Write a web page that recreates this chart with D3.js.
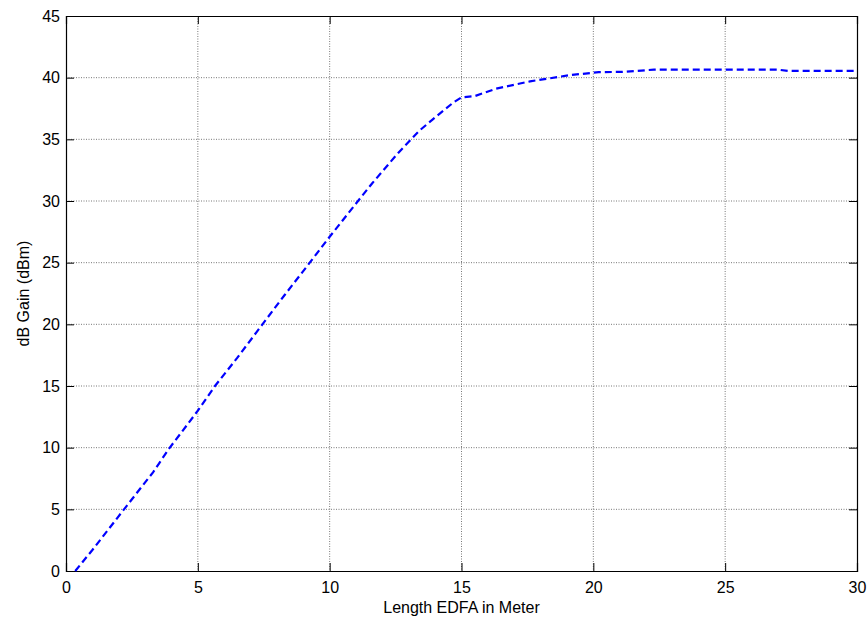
<!DOCTYPE html>
<html>
<head>
<meta charset="utf-8">
<script src="https://cdn.jsdelivr.net/npm/d3@7"></script>
<style>
  body {margin: 0; background: #fff;}
  .plot text {font-family: "Liberation Sans", Arial, sans-serif; font-size: 16px; fill: #000;}
</style>
</head>
<body>
<div id="chart"></div>
<script>
//-- Data
var length_m = [0.35, 1, 2.2, 3.3, 3.9, 4.4, 5, 5.65, 6.5, 7.45, 8.3, 9.1, 10, 11, 11.6, 12.2, 12.6, 13, 13.4, 13.9, 14.3, 14.7, 15, 15.5, 16.3, 17.6, 19.1, 20.2, 21.1, 22.3, 27, 27.4, 30];
var gain_db  = [0, 1.7, 5, 8, 9.9, 11.3, 13, 15, 17.3, 20, 22.4, 24.6, 27.1, 29.8, 31.4, 32.9, 33.9, 34.8, 35.7, 36.6, 37.3, 38.0, 38.4, 38.5, 39.1, 39.7, 40.2, 40.45, 40.47, 40.65, 40.65, 40.55, 40.55];
var xticks = [0, 5, 10, 15, 20, 25, 30];
var yticks = [0, 5, 10, 15, 20, 25, 30, 35, 40, 45];
var xlabel = "Length EDFA in Meter";
var ylabel = "dB Gain (dBm)";

var wrap = {id: "#chart"};

function GC_Make_Canvas(wrap) {
  var tot_width = 868;
  var tot_height = 621;
  var margin = {left: 66, right: 11, bottom: 50, top: 16};
  var width = tot_width - margin.left - margin.right;
  var height = tot_height - margin.top - margin.bottom;

  var svg = d3.select(wrap.id)
    .append("svg")
      .attr("class", "plot")
      .attr("width", tot_width)
      .attr("height", tot_height)
    .append("g")
      .attr("transform", "translate(" + margin.left + "," + margin.top + ")");

  wrap.margin = margin;
  wrap.width = width;
  wrap.height = height;
  wrap.svg = svg;
}

function GC_initialize(wrap) {
  var x = d3.scaleLinear().domain([0, 30]).range([0, wrap.width]);
  var y = d3.scaleLinear().domain([0, 45]).range([wrap.height, 0]);
  var tick_len = 8;

  //-- Grid
  wrap.svg.append("g")
    .selectAll("line")
    .data(xticks.slice(1, -1))
    .enter()
    .append("line")
      .attr("x1", function (d) {return x(d);})
      .attr("x2", function (d) {return x(d);})
      .attr("y1", 0)
      .attr("y2", wrap.height)
      .style("stroke", "#555")
      .style("stroke-width", 0.8)
      .style("stroke-dasharray", "1,1.5")

  wrap.svg.append("g")
    .selectAll("line")
    .data(yticks.slice(1, -1))
    .enter()
    .append("line")
      .attr("x1", 0)
      .attr("x2", wrap.width)
      .attr("y1", function (d) {return y(d);})
      .attr("y2", function (d) {return y(d);})
      .style("stroke", "#555")
      .style("stroke-width", 0.8)
      .style("stroke-dasharray", "1,1.5")

  //-- Axes (ticks inside, box on)
  var x_axis = d3.axisBottom(x).tickValues(xticks).tickSize(-tick_len).tickPadding(11);
  var x_axis_top = d3.axisTop(x).tickValues(xticks).tickSize(-tick_len).tickFormat("");
  var y_axis = d3.axisLeft(y).tickValues(yticks).tickSize(-tick_len).tickPadding(6);
  var y_axis_right = d3.axisRight(y).tickValues(yticks).tickSize(-tick_len).tickFormat("");

  wrap.svg.append("g")
    .attr("class", "xaxis")
    .attr("transform", "translate(0," + wrap.height + ")")
    .call(x_axis)
  wrap.svg.append("g").attr("class", "xaxis").call(x_axis_top)
  wrap.svg.append("g").attr("class", "yaxis").call(y_axis)
  wrap.svg.append("g")
    .attr("class", "yaxis")
    .attr("transform", "translate(" + wrap.width + ",0)")
    .call(y_axis_right)

  wrap.svg.selectAll(".xaxis path, .yaxis path").style("stroke", "#000").style("stroke-width", 1.2)
  wrap.svg.selectAll(".xaxis line, .yaxis line").style("stroke", "#000")
  wrap.svg.selectAll(".xaxis text, .yaxis text").style("font-size", "16px").style("font-family", "Liberation Sans, Arial, sans-serif")

  //-- Curve
  var line = d3.line()
    .x(function (d, i) {return x(length_m[i]);})
    .y(function (d, i) {return y(gain_db[i]);});

  wrap.svg.append("path")
    .datum(gain_db)
    .attr("d", line)
    .style("fill", "none")
    .style("stroke", "#0000ff")
    .style("stroke-width", 2.2)
    .style("stroke-dasharray", "7,4")

  //-- Labels
  wrap.svg.append("text")
    .attr("x", wrap.width / 2)
    .attr("y", wrap.height + 42)
    .attr("text-anchor", "middle")
    .text(xlabel)

  wrap.svg.append("text")
    .attr("transform", "translate(" + (-37) + "," + (wrap.height / 2) + ") rotate(-90)")
    .attr("text-anchor", "middle")
    .text(ylabel)
}

GC_Make_Canvas(wrap);
GC_initialize(wrap);
</script>
</body>
</html>
